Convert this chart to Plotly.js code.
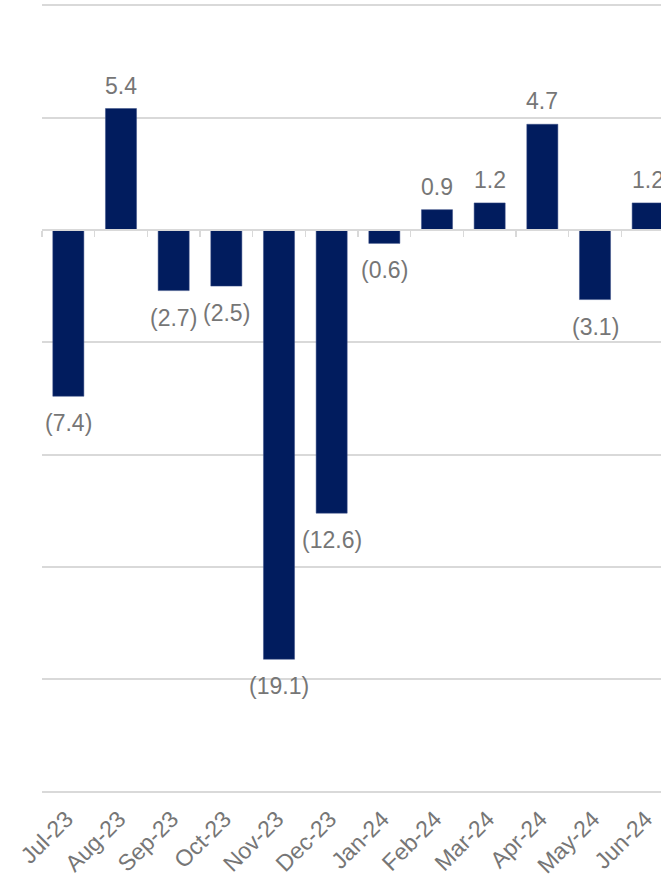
<!DOCTYPE html>
<html>
<head>
<meta charset="utf-8">
<script src="https://cdn.plot.ly/plotly-3.0.1.min.js"></script>
<style>
html,body{margin:0;padding:0;overflow:hidden;background:#fff;}
#chart{width:690px;height:878px;}
</style>
</head>
<body>
<div id="chart"></div>
<script>
var months = ["Jul-23","Aug-23","Sep-23","Oct-23","Nov-23","Dec-23","Jan-24","Feb-24","Mar-24","Apr-24","May-24","Jun-24"];
var values = [-7.4, 5.4, -2.7, -2.5, -19.1, -12.6, -0.6, 0.9, 1.2, 4.7, -3.1, 1.2];
var yTicks = [10, 5, 0, -5, -10, -15, -20, -25];
var yRange = [-25.05, 10.05];

var labels = values.map(function(v){
  var s = Math.abs(v).toFixed(1);
  return v < 0 ? "(" + s + ")" : s;
});

var font = "Liberation Sans, Arial, sans-serif";
var gray = "#767676";
var grid = "#d9d9d9";

var traces = [
  {
    type: "bar",
    x: months,
    y: values,
    marker: {color: "#011c5e", line: {color: "#3a4f86", width: 0.5}},
    hoverinfo: "x+y",
    xaxis: "x",
    yaxis: "y"
  },
  {
    type: "bar",
    x: months,
    y: months.map(function(){return 0;}),
    xaxis: "x2",
    yaxis: "y",
    showlegend: false,
    hoverinfo: "skip",
    marker: {color: "rgba(0,0,0,0)"}
  }
];

var annotations = values.map(function(v, i){
  return {
    x: months[i],
    y: v,
    xref: "x",
    yref: "y",
    text: labels[i],
    showarrow: false,
    yanchor: v < 0 ? "top" : "bottom",
    yshift: v < 0 ? -12 : 8,
    font: {family: font, size: 23, color: gray}
  };
});

var layout = {
  width: 690,
  height: 878,
  margin: {l: 42, r: 16, t: 4, b: 85},
  paper_bgcolor: "#ffffff",
  plot_bgcolor: "#ffffff",
  showlegend: false,
  bargap: 0.41,
  font: {family: font, color: gray},
  annotations: annotations,
  xaxis: {
    type: "category",
    categoryarray: months,
    tickangle: -45,
    tickfont: {family: font, size: 23, color: gray},
    ticklabelstandoff: 7,
    ticklabelshift: -2,
    showgrid: false,
    showline: false,
    ticks: "",
    zeroline: false,
    fixedrange: true
  },
  xaxis2: {
    type: "category",
    categoryarray: months,
    overlaying: "x",
    anchor: "free",
    position: (0 - yRange[0]) / (yRange[1] - yRange[0]),
    side: "bottom",
    showticklabels: false,
    showgrid: false,
    showline: true,
    linecolor: grid,
    linewidth: 2,
    ticks: "outside",
    tickson: "boundaries",
    ticklen: 6,
    tickwidth: 1.5,
    tickcolor: grid,
    zeroline: false,
    fixedrange: true
  },
  yaxis: {
    range: yRange,
    tickvals: yTicks,
    showticklabels: false,
    showgrid: true,
    gridcolor: grid,
    gridwidth: 2,
    zeroline: true,
    zerolinecolor: grid,
    zerolinewidth: 2,
    showline: false,
    ticks: "",
    fixedrange: true
  }
};

Plotly.newPlot("chart", traces, layout, {displayModeBar: false, staticPlot: true});
</script>
</body>
</html>
